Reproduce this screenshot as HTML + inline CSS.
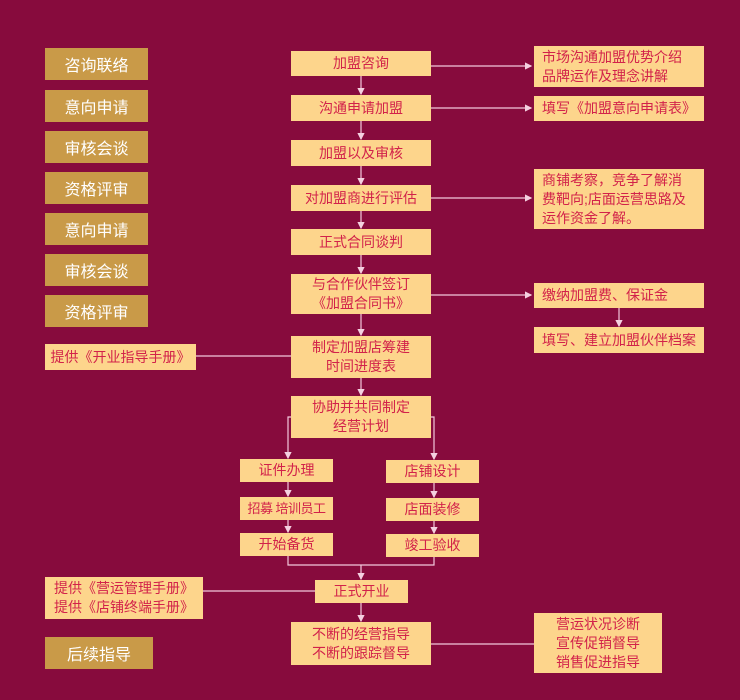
<!DOCTYPE html>
<html><head><meta charset="utf-8"><style>
*{margin:0;padding:0;box-sizing:border-box}
body{width:740px;height:700px;background:#870b3d;position:relative;overflow:hidden;font-family:"Liberation Sans","Noto Sans CJK SC",sans-serif}
.b{position:absolute;background:#fdd58c;color:#d2224a;font-size:14px;display:flex;align-items:center;justify-content:center;text-align:center;line-height:19px;white-space:nowrap}
.r{justify-content:flex-start;text-align:left;padding-left:8px}
.g{position:absolute;background:#c99a48;color:#fff;font-size:16px;display:flex;align-items:center;justify-content:center}
svg{position:absolute;left:0;top:0}
</style></head><body>
<svg width="740" height="700"><defs><marker id="a" markerWidth="6" markerHeight="6" refX="5" refY="3" orient="auto"><path d="M0,0 L6,3 L0,6z" fill="#f4d0e0"/></marker></defs>
<g stroke="#f2c8dc" stroke-width="1.2" fill="none">
<line x1="361" y1="76" x2="361" y2="94" marker-end="url(#a)"/>
<line x1="361" y1="121" x2="361" y2="139" marker-end="url(#a)"/>
<line x1="361" y1="166" x2="361" y2="184" marker-end="url(#a)"/>
<line x1="361" y1="211" x2="361" y2="228" marker-end="url(#a)"/>
<line x1="361" y1="255" x2="361" y2="273" marker-end="url(#a)"/>
<line x1="361" y1="314" x2="361" y2="335" marker-end="url(#a)"/>
<line x1="361" y1="378" x2="361" y2="395" marker-end="url(#a)"/>
<line x1="431" y1="66" x2="531" y2="66" marker-end="url(#a)"/>
<line x1="431" y1="108" x2="531" y2="108" marker-end="url(#a)"/>
<line x1="431" y1="198" x2="531" y2="198" marker-end="url(#a)"/>
<line x1="431" y1="295" x2="531" y2="295" marker-end="url(#a)"/>
<line x1="619" y1="308" x2="619" y2="326" marker-end="url(#a)"/>
<line x1="196" y1="356" x2="291" y2="356"/>
<line x1="203" y1="591" x2="315" y2="591"/>
<line x1="431" y1="644" x2="534" y2="644"/>
<path d="M291,417 H288 V458" marker-end="url(#a)"/>
<path d="M431,417 H434 V459" marker-end="url(#a)"/>
<line x1="288" y1="482" x2="288" y2="496" marker-end="url(#a)"/>
<line x1="288" y1="520" x2="288" y2="532" marker-end="url(#a)"/>
<line x1="434" y1="483" x2="434" y2="497" marker-end="url(#a)"/>
<line x1="434" y1="521" x2="434" y2="533" marker-end="url(#a)"/>
<path d="M288,556 V565 H434 V557"/>
<line x1="361" y1="565" x2="361" y2="579" marker-end="url(#a)"/>
<line x1="361" y1="603" x2="361" y2="621" marker-end="url(#a)"/>
</g></svg>
<div class="g" style="left:45px;top:48px;width:103px;height:32px">咨询联络</div>
<div class="g" style="left:45px;top:90px;width:103px;height:32px">意向申请</div>
<div class="g" style="left:45px;top:131px;width:103px;height:32px">审核会谈</div>
<div class="g" style="left:45px;top:172px;width:103px;height:32px">资格评审</div>
<div class="g" style="left:45px;top:213px;width:103px;height:32px">意向申请</div>
<div class="g" style="left:45px;top:254px;width:103px;height:32px">审核会谈</div>
<div class="g" style="left:45px;top:295px;width:103px;height:32px">资格评审</div>
<div class="g" style="left:45px;top:637px;width:108px;height:32px">后续指导</div>

<div class="b" style="left:291px;top:51px;width:140px;height:25px">加盟咨询</div>
<div class="b" style="left:291px;top:95px;width:140px;height:26px">沟通申请加盟</div>
<div class="b" style="left:291px;top:140px;width:140px;height:26px">加盟以及审核</div>
<div class="b" style="left:291px;top:185px;width:140px;height:26px">对加盟商进行评估</div>
<div class="b" style="left:291px;top:229px;width:140px;height:26px">正式合同谈判</div>
<div class="b" style="left:291px;top:274px;width:140px;height:40px">与合作伙伴签订<br>《加盟合同书》</div>
<div class="b" style="left:291px;top:336px;width:140px;height:42px">制定加盟店筹建<br>时间进度表</div>
<div class="b" style="left:291px;top:396px;width:140px;height:42px">协助并共同制定<br>经营计划</div>
<div class="b" style="left:240px;top:459px;width:93px;height:23px">证件办理</div>
<div class="b" style="left:240px;top:497px;width:93px;height:23px;font-size:13px;letter-spacing:-0.5px">招募 培训员工</div>
<div class="b" style="left:240px;top:533px;width:93px;height:23px">开始备货</div>
<div class="b" style="left:386px;top:460px;width:93px;height:23px">店铺设计</div>
<div class="b" style="left:386px;top:498px;width:93px;height:23px">店面装修</div>
<div class="b" style="left:386px;top:534px;width:93px;height:23px">竣工验收</div>
<div class="b" style="left:315px;top:580px;width:93px;height:23px">正式开业</div>
<div class="b" style="left:291px;top:622px;width:140px;height:43px">不断的经营指导<br>不断的跟踪督导</div>

<div class="b r" style="left:534px;top:46px;width:170px;height:41px">市场沟通加盟优势介绍<br>品牌运作及理念讲解</div>
<div class="b r" style="left:534px;top:96px;width:170px;height:25px">填写《加盟意向申请表》</div>
<div class="b r" style="left:534px;top:169px;width:170px;height:60px">商铺考察，竞争了解消<br>费靶向;店面运营思路及<br>运作资金了解。</div>
<div class="b r" style="left:534px;top:283px;width:170px;height:25px">缴纳加盟费、保证金</div>
<div class="b r" style="left:534px;top:327px;width:170px;height:26px">填写、建立加盟伙伴档案</div>
<div class="b" style="left:534px;top:613px;width:128px;height:60px">营运状况诊断<br>宣传促销督导<br>销售促进指导</div>
<div class="b" style="left:45px;top:344px;width:151px;height:26px">提供《开业指导手册》</div>
<div class="b" style="left:45px;top:577px;width:158px;height:42px">提供《营运管理手册》<br>提供《店铺终端手册》</div>
</body></html>
